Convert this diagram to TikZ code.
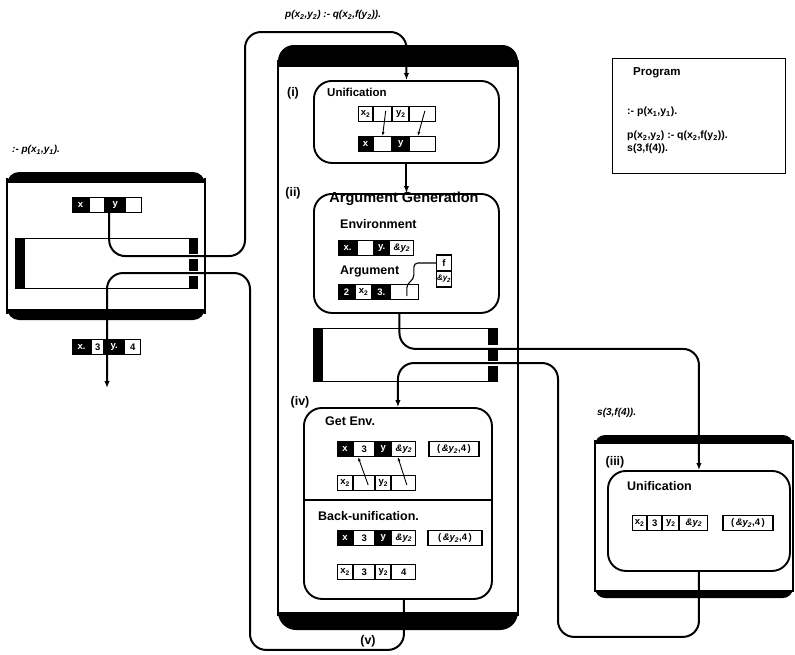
\documentclass[tikz,border=0pt]{standalone}
\usepackage{fontspec}
\setmainfont{Liberation Sans}
\usetikzlibrary{arrows.meta,calc}
\newcommand\lf{\fontsize{12.5}{14}\selectfont\bfseries}
\newcommand\cf{\fontsize{9.5}{11}\selectfont\bfseries}
\newcommand\ay{\textit{\&y\textsubscript{2}}}
\begin{document}
\begin{tikzpicture}[x=1pt,y=-1pt,
  conn/.style={line width=2pt, rounded corners=16},
  tip/.style={-{Latex[length=7pt,width=5.5pt]}},
  small/.style={line width=0.9pt,-{Latex[length=4pt,width=3pt]}},
  lbl/.style={font=\lf, anchor=west, inner sep=0},
  tag/.style={font=\lf, inner sep=0},
  code/.style={font=\fontsize{10}{12}\selectfont\bfseries\itshape, anchor=west, inner sep=0},
  pcode/.style={font=\fontsize{10.5}{12}\selectfont\bfseries, anchor=west, inner sep=0},
  box/.style={draw, line width=1.9pt, rounded corners=18, inner sep=0, anchor=north west},
  side/.style={line width=1.4pt},
  cl/.style={fill=black, text=white, draw=black, line width=1.1pt, minimum height=15pt, inner sep=0, anchor=west, font=\cf},
  cw/.style={fill=white, text=black, draw=black, line width=1.1pt, minimum height=15pt, inner sep=0, anchor=west, font=\cf},
  pair/.style={fill=white, draw=black, line width=1.9pt, minimum height=15pt, minimum width=50pt, inner sep=0, anchor=west, font=\cf},
]
\useasboundingbox (0,0) rectangle (795,654);

% ---------- left frame ----------
\begin{scope}
  \clip (0,170) rectangle (215,182);
  \fill[rounded corners=12] (7,172) rectangle (205,200);
\end{scope}
\begin{scope}
  \clip (0,309) rectangle (215,325);
  \fill[rounded corners=12] (7,290) rectangle (205,320);
\end{scope}
\draw[side] (7,178) -- (7,314);
\draw[side] (205,178) -- (205,314);
\node[code] (goal) at (12,150) {:- p(x\textsubscript{1},y\textsubscript{1}).};

\node[draw, line width=1.3pt, minimum width=182pt, minimum height=50pt, anchor=north west, inner sep=0] (lstack) at (15,238) {};
\fill (lstack.north west) rectangle ($(lstack.south west)+(10,0)$);
\fill ($(lstack.north east)+(-9,0)$) rectangle (lstack.south east);
\fill[white] (185,253.5) rectangle (200,258.5);
\fill[white] (185,270.5) rectangle (200,275.5);

\node[cl, minimum width=16pt] (lx) at (72,205) {x};
\node[cw, minimum width=15pt] (lxv) at (lx.east) {};
\node[cl, minimum width=19pt] (ly) at (lxv.east) {y};
\node[cw, minimum width=16pt] (lyv) at (ly.east) {};

% ---------- main frame ----------
\begin{scope}
  \clip (270,40) rectangle (525,66);
  \fill[rounded corners=16] (278,45) rectangle (518,90);
\end{scope}
\begin{scope}
  \clip (270,612) rectangle (525,635);
  \fill[rounded corners=18] (278,590) rectangle (518,630);
\end{scope}
\draw[side] (278,60) -- (278,616);
\draw[side] (518,60) -- (518,616);
\node[code] (clause) at (285,15) {p(x\textsubscript{2},y\textsubscript{2}) :- q(x\textsubscript{2},f(y\textsubscript{2})).};

% (i) unification
\node[tag] (t1) at (293,93) {(i)};
\node[box, minimum width=185pt, minimum height=82pt] (uni1) at (313,80) {};
\node[lbl, font=\fontsize{11.5}{13}\selectfont\bfseries] (u1t) at (327,92) {Unification};
\node[cw, minimum width=14pt] (ia) at (358,114) {x\textsubscript{2}};
\node[cw, minimum width=18pt] (iav) at (ia.east) {};
\node[cw, minimum width=16pt] (ib) at (iav.east) {y\textsubscript{2}};
\node[cw, minimum width=26pt] (ibv) at (ib.east) {};
\node[cl, minimum width=14pt] (ja) at (358,144) {x};
\node[cw, minimum width=18pt] (jav) at (ja.east) {};
\node[cl, minimum width=16pt] (jb) at (jav.east) {y};
\node[cw, minimum width=26pt] (jbv) at (jb.east) {};
\draw[small] ($(iav.center)+(3,-3)$) -- (jav.north);
\draw[small] ($(ibv.center)+(2,-3)$) -- ($(jbv.north)+(-5,0)$);

% (ii) argument generation
\node[tag] (t2) at (293,193) {(ii)};
\node[box, minimum width=185pt, minimum height=119pt] (ag) at (313,193) {};
\node[tag, font=\fontsize{14.5}{16}\selectfont\bfseries] (agt) at (404,199) {Argument Generation};
\node[lbl] (envt) at (340,224) {Environment};
\node[cl, minimum width=18pt] (ea) at (338,248) {x.};
\node[cw, minimum width=16pt] (eav) at (ea.east) {};
\node[cl, minimum width=14pt] (eb) at (eav.east) {y.};
\node[cw, minimum width=24pt] (ebv) at (eb.east) {\ay};
\node[lbl] (argt) at (340,272) {Argument};
\node[cl, minimum width=16pt] (aa) at (338,292) {2};
\node[cw, minimum width=16pt] (aav) at (aa.east) {x\textsubscript{2}};
\node[cl, minimum width=17pt] (ab) at (aav.east) {3.};
\node[cw, minimum width=28pt] (abv) at (ab.east) {};
\node[cw, minimum width=15pt, minimum height=16pt] (sf) at (436,263) {f};
\node[cw, minimum width=15pt, minimum height=16pt, font=\fontsize{8}{9}\selectfont\bfseries] (sy) at (436,279) {\ay};
\draw[line width=1.1pt, rounded corners=4] ($(abv.center)+(2,4)$) -- ++(0,-12) -- ++(7,-5) |- (sf.west);

% middle stack frame
\node[draw, line width=1.3pt, minimum width=184pt, minimum height=53pt, anchor=north west, inner sep=0] (mstack) at (313,328) {};
\fill (mstack.north west) rectangle ($(mstack.south west)+(10,0)$);
\fill ($(mstack.north east)+(-10,0)$) rectangle (mstack.south east);
\fill[white] (485,344.5) rectangle (499,349.5);
\fill[white] (485,360.5) rectangle (499,365.5);

% (iv) get env / back-unification
\node[tag] (t4) at (300,402) {(iv)};
\node[box, minimum width=188pt, minimum height=191pt] (ge) at (303,407) {};
\draw[line width=1.3pt] (ge.west |- 0,500) -- (ge.east |- 0,500);
\node[lbl] (get) at (325,421) {Get Env.};
\node[cl, minimum width=15pt] (ga) at (337,449) {x};
\node[cw, minimum width=21pt] (gav) at (ga.east) {3};
\node[cl, minimum width=15pt] (gb) at (gav.east) {y};
\node[cw, minimum width=24pt] (gbv) at (gb.east) {\ay};
\node[pair] (gp) at (428,449) {(\,\ay,4\,)};
\node[cw, minimum width=15pt] (ha) at (337,483) {x\textsubscript{2}};
\node[cw, minimum width=21pt] (hav) at (ha.east) {};
\node[cw, minimum width=15pt] (hb) at (hav.east) {y\textsubscript{2}};
\node[cw, minimum width=24pt] (hbv) at (hb.east) {};
\draw[small] ($(hav.center)+(4,2)$) -- ($(gav.south)+(-6,0)$);
\draw[small] ($(hbv.center)+(3,2)$) -- ($(gbv.south)+(-6,0)$);
\node[lbl] (bu) at (318,516) {Back-unification.};
\node[cl, minimum width=15pt] (ba) at (337,538) {x};
\node[cw, minimum width=21pt] (bav) at (ba.east) {3};
\node[cl, minimum width=15pt] (bb) at (bav.east) {y};
\node[cw, minimum width=24pt] (bbv) at (bb.east) {\ay};
\node[pair, minimum width=54pt] (bp) at (427,538) {(\,\ay,4\,)};
\node[cw, minimum width=15pt] (ca) at (337,572) {x\textsubscript{2}};
\node[cw, minimum width=21pt] (cav) at (ca.east) {3};
\node[cw, minimum width=15pt] (cb) at (cav.east) {y\textsubscript{2}};
\node[cw, minimum width=24pt] (cbv) at (cb.east) {4};
\node[tag] (t5) at (368,641) {(v)};

% ---------- right frame (iii) ----------
\begin{scope}
  \clip (590,430) rectangle (800,443);
  \fill[rounded corners=10] (595,435) rectangle (793,470);
\end{scope}
\begin{scope}
  \clip (590,590) rectangle (800,600);
  \fill[rounded corners=10] (595,570) rectangle (793,598);
\end{scope}
\draw[side] (595,440) -- (595,592);
\draw[side] (793,440) -- (793,592);
\node[code] (sfact) at (597,413) {s(3,f(4)).};
\node[tag] (t3) at (615,462) {(iii)};
\node[box, minimum width=182pt, minimum height=100pt] (uni3) at (607,470) {};
\node[lbl] (u3t) at (627,486) {Unification};
\node[cw, minimum width=14pt] (ra) at (632,523) {x\textsubscript{2}};
\node[cw, minimum width=14pt] (rav) at (ra.east) {3};
\node[cw, minimum width=16pt] (rb) at (rav.east) {y\textsubscript{2}};
\node[cw, minimum width=28pt] (rbv) at (rb.east) {\ay};
\node[pair] (rp) at (722,523) {(\,\ay,4\,)};

% ---------- program box ----------
\node[draw, line width=1.4pt, minimum width=173pt, minimum height=115pt, anchor=north west, inner sep=0] (prog) at (612,58) {};
\node[pcode, font=\fontsize{11.5}{13}\selectfont\bfseries] (pt) at (633,73) {Program};
\node[pcode] (p1) at (627,112) {:- p(x\textsubscript{1},y\textsubscript{1}).};
\node[pcode] (p2) at (627,136) {p(x\textsubscript{2},y\textsubscript{2}) :- q(x\textsubscript{2},f(y\textsubscript{2})).};
\node[pcode] (p3) at (627,149) {s(3,f(4)).};

% ---------- connectors ----------
\draw[conn,tip] ([xshift=4pt]ly.south west) -- ++(0,43) -| (245,32) -| (uni1.north);
\draw[conn,tip] (uni1.south) -- (ag.north);
\coordinate (agout) at ([xshift=-7pt]ag.south);
\draw[conn,tip] (agout) -- ++(0,35) -| (uni3.north);
\draw[conn,tip] (uni3.south) -- ++(0,65) -| (558,363) -| (ge.north);
\coordinate (geout) at ([xshift=6pt]ge.south);
\coordinate (ansend) at (107,388);
\draw[conn,tip] (geout) -- ++(0,50) -| (250,273) -| (ansend);

% answer register drawn over the answer line
\node[cl, minimum width=18pt] (ax) at (72,347) {x.};
\node[cw, minimum width=12pt] (axv) at (ax.east) {3};
\node[cl, minimum width=19pt] (ayl) at (axv.east) {y.};
\node[cw, minimum width=16pt] (ayv) at (ayl.east) {4};
\end{tikzpicture}
\end{document}
